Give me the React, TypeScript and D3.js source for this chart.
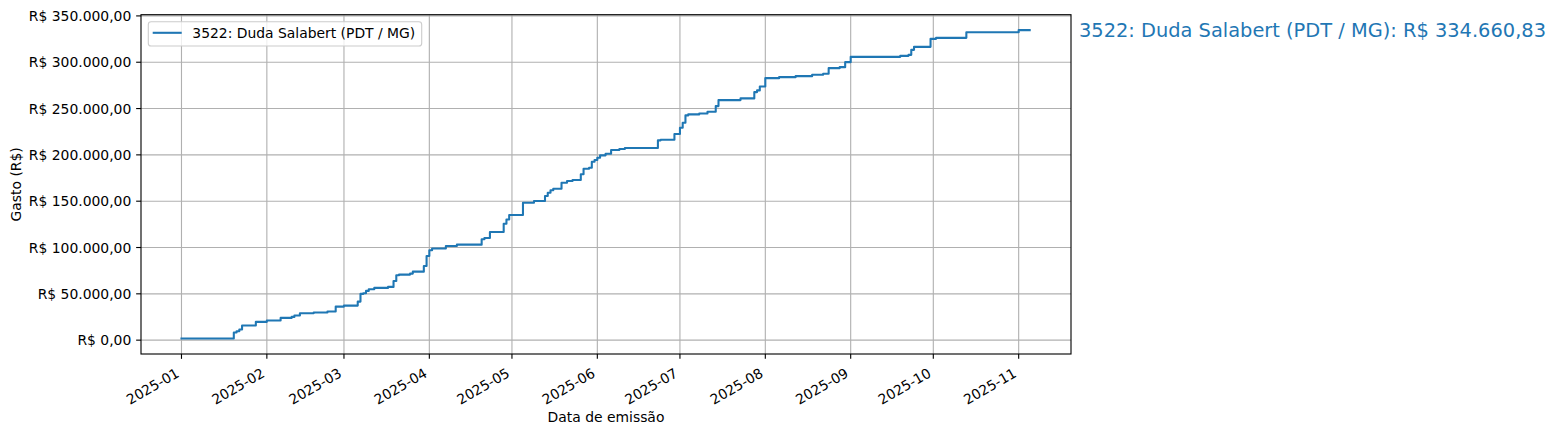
import React from "react";
import * as d3 from "d3";

// ---- Data ----
const seriesLabel = "3522: Duda Salabert (PDT / MG)";
const finalTotal = 334660.83;

const emissionDates = [
  "2025-01-01", "2025-01-20", "2025-01-21", "2025-01-22", "2025-01-23", "2025-01-28",
  "2025-02-01", "2025-02-06", "2025-02-10", "2025-02-11", "2025-02-13", "2025-02-18",
  "2025-02-23", "2025-02-26", "2025-03-01", "2025-03-06", "2025-03-07", "2025-03-08",
  "2025-03-09", "2025-03-10", "2025-03-12", "2025-03-17", "2025-03-19", "2025-03-20",
  "2025-03-21", "2025-03-25", "2025-03-26", "2025-03-30", "2025-03-31", "2025-04-01",
  "2025-04-02", "2025-04-07", "2025-04-11", "2025-04-20", "2025-04-21", "2025-04-23",
  "2025-04-28", "2025-04-29", "2025-04-30", "2025-05-05", "2025-05-09", "2025-05-13",
  "2025-05-14", "2025-05-15", "2025-05-16", "2025-05-19", "2025-05-21", "2025-05-23",
  "2025-05-26", "2025-05-27", "2025-05-29", "2025-05-30", "2025-05-31", "2025-06-01",
  "2025-06-02", "2025-06-04", "2025-06-06", "2025-06-09", "2025-06-11", "2025-06-23",
  "2025-06-24", "2025-06-29", "2025-07-01", "2025-07-02", "2025-07-03", "2025-07-04",
  "2025-07-08", "2025-07-11", "2025-07-14", "2025-07-15", "2025-07-23", "2025-07-28",
  "2025-07-29", "2025-07-30", "2025-08-01", "2025-08-06", "2025-08-12", "2025-08-18",
  "2025-08-22", "2025-08-24", "2025-08-28", "2025-08-30", "2025-09-01", "2025-09-19",
  "2025-09-22", "2025-09-23", "2025-09-24", "2025-09-30", "2025-10-02", "2025-10-13",
  "2025-11-01", "2025-11-05",
];

const cumulativeSpend = [
  1700, 8200, 9700, 11430, 15740, 19730,
  21130, 24010, 25120, 26530, 29110, 29760,
  30840, 36230, 37310, 41620, 49930, 50680,
  53160, 54990, 56400, 57470, 63940, 70090,
  70740, 71820, 73970, 80120, 90900, 97050,
  98990, 101690, 103090, 108910, 110310, 116780,
  125730, 130260, 135110, 148370, 150210, 155600,
  159160, 161750, 163470, 169940, 171770, 172850,
  179000, 185040, 186120, 192590, 194420, 196900,
  199490, 201210, 205200, 206280, 207360, 215660,
  216310, 222570, 229250, 234640, 242620, 243700,
  244670, 246500, 252650, 259120, 260950, 267740,
  269580, 273890, 282840, 283920, 285000, 286400,
  287480, 293620, 294700, 300090, 305810, 306890,
  307960, 313360, 316590, 325220, 326300, 332440,
  334660.83, 334660.83,
];

const X_PAD_DAYS_LEFT = 14.7;
const X_PAD_DAYS_RIGHT = 15.0;

// ---- Layout ----
const W = 1558;
const H = 434;
const plot = { left: 141, right: 1071, top: 14.7, bottom: 354 };
const BLUE = "#1f77b4";
const FONT = "DejaVu Sans, sans-serif";
const FS = 13.9;
const LW = 1.11; // 0.8pt at 100 dpi

const brLocale = d3.formatLocale({
  decimal: ",",
  thousands: ".",
  grouping: [3],
  currency: ["R$ ", ""],
});
const fmtBRL = brLocale.format("$,.2f");
const parseDate = d3.timeParse("%Y-%m-%d");
const fmtMonth = d3.timeFormat("%Y-%m");

export default function App() {
  const points = emissionDates.map((d, i) => ({
    date: parseDate(d) as Date,
    value: cumulativeSpend[i],
  }));

  const [d0, d1] = d3.extent(points, (p) => p.date) as [Date, Date];
  const day = 864e5;
  const x = d3
    .scaleTime()
    .domain([
      new Date(d0.getTime() - X_PAD_DAYS_LEFT * day),
      new Date(d1.getTime() + X_PAD_DAYS_RIGHT * day),
    ])
    .range([plot.left, plot.right]);

  const [v0, v1] = d3.extent(points, (p) => p.value) as [number, number];
  const vPad = (v1 - v0) * 0.05;
  const y = d3
    .scaleLinear()
    .domain([v0 - vPad, v1 + vPad])
    .range([plot.bottom, plot.top]);

  const yTicks = y.ticks(8).filter((t) => t >= 0);
  const xTicks = d3.timeMonth.range(
    d3.timeMonth.ceil(x.domain()[0]),
    x.domain()[1]
  );

  const line = d3
    .line<{ date: Date; value: number }>()
    .x((p) => x(p.date))
    .y((p) => y(p.value))
    .curve(d3.curveStepAfter);

  const tickLen = 4.86;
  const lastY = y(finalTotal);

  return (
    <svg
      width={W}
      height={H}
      style={{ position: "absolute", left: 0, top: 0, background: "#fff" }}
      fontFamily={FONT}
    >
      <rect x={0} y={0} width={W} height={H} fill="#fff" />
      {/* grid */}
      <g stroke="#b0b0b0" strokeWidth={LW}>
        {xTicks.map((t, i) => (
          <line key={"gx" + i} x1={x(t)} x2={x(t)} y1={plot.top} y2={plot.bottom} />
        ))}
        {yTicks.map((t, i) => (
          <line key={"gy" + i} x1={plot.left} x2={plot.right} y1={y(t)} y2={y(t)} />
        ))}
      </g>

      {/* series */}
      <path
        d={line(points) || ""}
        fill="none"
        stroke={BLUE}
        strokeWidth={2.08}
        strokeLinecap="square"
        strokeLinejoin="round"
      />

      {/* spines */}
      <rect
        x={plot.left}
        y={plot.top}
        width={plot.right - plot.left}
        height={plot.bottom - plot.top}
        fill="none"
        stroke="#000"
        strokeWidth={LW}
      />

      {/* y axis */}
      <g fontSize={FS} fill="#000">
        {yTicks.map((t, i) => (
          <g key={"yt" + i}>
            <line
              x1={plot.left - tickLen}
              x2={plot.left}
              y1={y(t)}
              y2={y(t)}
              stroke="#000"
              strokeWidth={LW}
            />
            <text
              x={plot.left - tickLen - 4.86}
              y={y(t)}
              textAnchor="end"
              dominantBaseline="central"
            >
              {fmtBRL(t)}
            </text>
          </g>
        ))}
      </g>

      {/* x axis */}
      <g fontSize={FS} fill="#000">
        {xTicks.map((t, i) => (
          <g key={"xt" + i}>
            <line
              x1={x(t)}
              x2={x(t)}
              y1={plot.bottom}
              y2={plot.bottom + tickLen}
              stroke="#000"
              strokeWidth={LW}
            />
            <text
              transform={`translate(${x(t) - 1.2},${376}) rotate(-30)`}
              textAnchor="end"
            >
              {fmtMonth(t)}
            </text>
          </g>
        ))}
      </g>

      {/* axis labels */}
      <text
        x={(plot.left + plot.right) / 2}
        y={421.5}
        fontSize={FS}
        textAnchor="middle"
      >
        Data de emissão
      </text>
      <text
        transform={`translate(20.5,${(plot.top + plot.bottom) / 2}) rotate(-90)`}
        fontSize={FS}
        textAnchor="middle"
      >
        Gasto (R$)
      </text>

      {/* legend */}
      <g>
        <rect
          x={148.3}
          y={21.7}
          width={273.4}
          height={24.3}
          rx={2.8}
          fill="#fff"
          fillOpacity={0.8}
          stroke="#cccccc"
          strokeWidth={LW}
        />
        <line x1={152.7} x2={181.7} y1={32.8} y2={32.8} stroke={BLUE} strokeWidth={2.08} />
        <text x={192.3} y={33.3} fontSize={FS} dominantBaseline="central">
          {seriesLabel}
        </text>
      </g>

      {/* end annotation */}
      <text
        x={plot.right + 8}
        y={lastY}
        fontSize={19.4}
        fill={BLUE}
        dominantBaseline="central"
      >
        {`${seriesLabel}: ${fmtBRL(finalTotal)}`}
      </text>
    </svg>
  );
}
